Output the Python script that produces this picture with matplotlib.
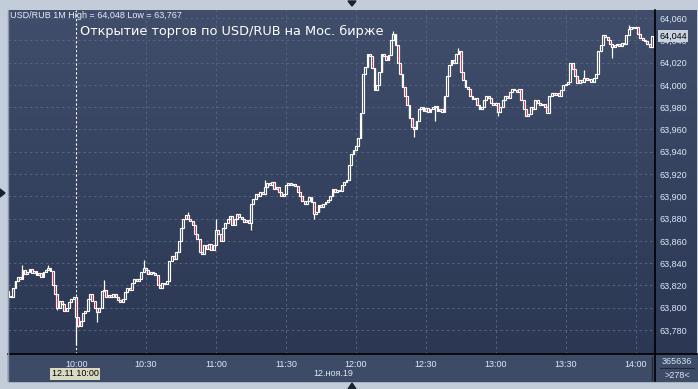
import matplotlib
matplotlib.use("Agg")
import numpy as np
import matplotlib.pyplot as plt
from matplotlib.patches import Rectangle, Polygon
from matplotlib.lines import Line2D

W, H = 698, 389

# ── Data (1-minute bars, 09:31 .. 14:07) ──────────────────────────────────────
open_first = 63.815
closes = [
    63.810, 63.810, 63.818, 63.824, 63.828, 63.826, 63.834, 63.830, 63.832, 63.835,
    63.831, 63.833, 63.829, 63.831, 63.828, 63.832, 63.834, 63.836, 63.833, 63.820,
    63.812, 63.800, 63.806, 63.803, 63.797, 63.800, 63.805, 63.808, 63.810, 63.792,
    63.784, 63.788, 63.795, 63.797, 63.808, 63.812, 63.806, 63.800, 63.796, 63.800,
    63.815, 63.816, 63.810, 63.811, 63.810, 63.812, 63.810, 63.807, 63.805, 63.808,
    63.814, 63.818, 63.816, 63.822, 63.826, 63.824, 63.826, 63.832, 63.836, 63.834,
    63.830, 63.832, 63.831, 63.829, 63.820, 63.818, 63.822, 63.821, 63.824, 63.842,
    63.846, 63.844, 63.850, 63.860, 63.872, 63.880, 63.883, 63.880, 63.878, 63.874,
    63.866, 63.862, 63.850, 63.848, 63.856, 63.853, 63.857, 63.852, 63.856, 63.870,
    63.866, 63.860, 63.872, 63.876, 63.880, 63.882, 63.874, 63.880, 63.884, 63.881,
    63.880, 63.877, 63.879, 63.876, 63.893, 63.898, 63.902, 63.900, 63.904, 63.902,
    63.908, 63.912, 63.910, 63.913, 63.907, 63.908, 63.904, 63.900, 63.902, 63.910,
    63.912, 63.910, 63.911, 63.909, 63.904, 63.900, 63.896, 63.893, 63.896, 63.899,
    63.895, 63.884, 63.886, 63.892, 63.890, 63.893, 63.895, 63.897, 63.900, 63.907,
    63.904, 63.906, 63.905, 63.910, 63.913, 63.915, 63.928, 63.938, 63.942, 63.945,
    63.952, 63.975, 64.010, 64.016, 64.028, 64.026, 64.015, 63.995, 64.000, 64.012,
    64.028, 64.026, 64.022, 64.027, 64.040, 64.046, 64.036, 64.020, 64.010, 63.998,
    63.990, 63.982, 63.970, 63.962, 63.960, 63.968, 63.978, 63.980, 63.977, 63.979,
    63.976, 63.978, 63.980, 63.981, 63.977, 63.978, 63.976, 63.990, 64.008, 64.018,
    64.022, 64.020, 64.028, 64.030, 64.012, 64.004, 63.998, 63.996, 63.990, 63.987,
    63.988, 63.982, 63.978, 63.980, 63.986, 63.990, 63.988, 63.984, 63.982, 63.984,
    63.976, 63.980, 63.986, 63.990, 63.988, 63.994, 63.996, 63.995, 63.994, 63.996,
    63.986, 63.978, 63.972, 63.974, 63.980, 63.978, 63.986, 63.984, 63.982, 63.983,
    63.980, 63.975, 63.990, 63.993, 63.991, 63.993, 63.990, 63.995, 64.000, 64.001,
    64.003, 64.020, 64.014, 64.008, 64.002, 64.004, 64.003, 64.006, 64.004, 64.005,
    64.003, 64.006, 64.010, 64.030, 64.036, 64.045, 64.043, 64.040, 64.037, 64.034,
    64.036, 64.037, 64.035, 64.038, 64.037, 64.045, 64.050, 64.052, 64.051, 64.052,
    64.046, 64.042, 64.040, 64.039, 64.037, 64.034, 64.044,
]
# wicks that reach beyond the bodies (bar index -> price)
wick_high = {6: 63.838, 17: 63.838, 41: 63.825, 58: 63.843, 77: 63.886,
             89: 63.880, 110: 63.915, 165: 64.048, 193: 64.033, 247: 64.013,
             266: 64.054}
wick_low = {0: 63.802, 21: 63.798, 29: 63.767, 30: 63.783, 38: 63.787,
            104: 63.870, 131: 63.880, 174: 63.953, 183: 63.968, 210: 63.972,
            259: 64.024, 276: 64.036}

time_idx = [29, 59, 89, 119, 149, 179, 209, 239, 269]
time_labels = ["10:00", "10:30", "11:00", "11:30", "12:00",
               "12:30", "13:00", "13:30", "14:00"]
price_ticks = [63.780, 63.800, 63.820, 63.840, 63.860, 63.880, 63.900,
               63.920, 63.940, 63.960, 63.980, 64.000, 64.020, 64.040, 64.060]

# ── Colours ───────────────────────────────────────────────────────────────────
FRAME  = "#c3cdd9"
BG_TOP = "#404e6b"
BG_BOT = "#2b3753"
STRIP  = "#3d4b67"
GRID   = "#56647f"
LABEL  = "#dde7f6"
RED    = "#e3122e"


def fx(x):
    return x / W


def fy(y):
    return 1 - y / H


fig = plt.figure(figsize=(W / 100, H / 100), dpi=100)
fig.patch.set_facecolor(FRAME)

# gradient panel behind plot and price scale
bg = fig.add_axes([fx(8), fy(354), fx(697 - 8), (354 - 10) / H], zorder=0)
grad = np.linspace(0, 1, 256).reshape(-1, 1)
c0 = np.array(matplotlib.colors.to_rgb(BG_TOP))
c1 = np.array(matplotlib.colors.to_rgb(BG_BOT))
img = c0[None, None, :] * (1 - grad[:, :, None]) + c1[None, None, :] * grad[:, :, None]
bg.imshow(img, aspect="auto", extent=(0, 1, 0, 1))
bg.set_axis_off()

# time strip
fig.patches.append(Rectangle((fx(8), fy(381)), fx(697 - 8), (381 - 354) / H,
                             transform=fig.transFigure, color=STRIP, zorder=0))

ax = fig.add_axes([fx(8), fy(354), fx(655 - 8), (354 - 10) / H], zorder=1)
ax.set_facecolor("none")

# ── Candles ───────────────────────────────────────────────────────────────────
c = np.array(closes)
o = np.array([open_first] + closes[:-1])
idx = np.arange(len(c))
hi = np.maximum(o, c)
lo = np.minimum(o, c)
for k, v in wick_high.items():
    hi[k] = v
for k, v in wick_low.items():
    lo[k] = v

ax.vlines(idx, lo, hi, color="white", lw=0.9, zorder=3)
body_h = np.maximum(np.abs(c - o), 0.0008)
faces = [RED if cc < oo else "#35435f" for oo, cc in zip(o, c)]
ax.bar(idx, body_h, bottom=np.minimum(o, c), width=0.8, color=faces,
       edgecolor="white", linewidth=0.85, zorder=4)

ax.set_xlim(-0.2, 277.3)
ax.set_ylim(63.7585, 64.0672)

# grid
for v in price_ticks:
    ax.axhline(v, color=GRID, lw=0.7, ls=(0, (2.5, 3)), zorder=1)
for t in time_idx[1:]:
    ax.axvline(t, color=GRID, lw=0.7, ls=(0, (2.5, 3)), zorder=1)
ax.axvline(time_idx[0], color="white", lw=0.8, ls=(0, (2, 2)), zorder=2)

ax.yaxis.tick_right()
ax.set_yticks(price_ticks)
ax.set_yticklabels([f"{v:.3f}".replace(".", ",") for v in price_ticks])
ax.set_xticks(time_idx)
ax.set_xticklabels(time_labels)
ax.tick_params(axis="y", length=0, pad=3, labelcolor=LABEL, labelsize=6.5)
ax.tick_params(axis="x", length=0, pad=4, labelcolor=LABEL, labelsize=6.5)
for lab in ax.get_xticklabels() + ax.get_yticklabels():
    lab.set_family("Liberation Sans")

for side in ("top", "left", "right", "bottom"):
    ax.spines[side].set_visible(False)

# frame lines
fig.lines.append(Line2D([fx(8), fx(697)], [fy(354), fy(354)],
                        transform=fig.transFigure, color="black", lw=1.2))
fig.lines.append(Line2D([fx(655), fx(655)], [fy(10), fy(381)],
                        transform=fig.transFigure, color="black", lw=1.2))
fig.lines.append(Line2D([fx(8), fx(8)], [fy(10), fy(381)],
                        transform=fig.transFigure, color="#8a96a8", lw=1.0))
fig.lines.append(Line2D([fx(652), fx(652)], [fy(357), fy(380)],
                        transform=fig.transFigure, color="#222a38", lw=1.0))
fig.lines.append(Line2D([fx(660), fx(694)], [fy(368), fy(368)],
                        transform=fig.transFigure, color="#222a38", lw=0.8))

# ── Texts ─────────────────────────────────────────────────────────────────────
fig.text(fx(10), fy(15), "USD/RUB 1M High = 64,048 Low = 63,767",
         family="Liberation Sans", fontsize=6.5, color="#e8eef8", va="center")
fig.text(fx(80), fy(31), "Открытие торгов по USD/RUB на Мос. бирже",
         fontsize=9.3, color="white", va="center")
fig.text(fx(659), fy(36), "64,044", family="Liberation Sans", fontsize=6.5,
         color="black", va="center", zorder=5,
         bbox=dict(boxstyle="square,pad=0.15", fc="#c9d1dc", ec="none"))
fig.text(fx(75), fy(374), "12.11 10:00", family="Liberation Sans", fontsize=6.5,
         color="black", ha="center", va="center",
         bbox=dict(boxstyle="square,pad=0.15", fc="#dadac2", ec="none"))
fig.text(fx(333), fy(374), "12.ноя.19", family="Liberation Sans", fontsize=6.5,
         color=LABEL, ha="center", va="center")
fig.text(fx(677), fy(362), "365636", family="Liberation Sans", fontsize=6.5,
         color=LABEL, ha="center", va="center")
fig.text(fx(677), fy(375), ">278<", family="Liberation Sans", fontsize=6.5,
         color=LABEL, ha="center", va="center")

# little frame markers
for pts in ([(348, 1), (356, 1), (352, 6)],
            [(0, 189), (0, 197), (5, 193)],
            [(348, 389), (356, 389), (352, 383)]):
    fig.patches.append(Polygon([(fx(x), fy(y)) for x, y in pts], closed=True,
                               transform=fig.transFigure, color="#1a2030"))

fig.savefig("out.png", dpi=100, facecolor=FRAME)
